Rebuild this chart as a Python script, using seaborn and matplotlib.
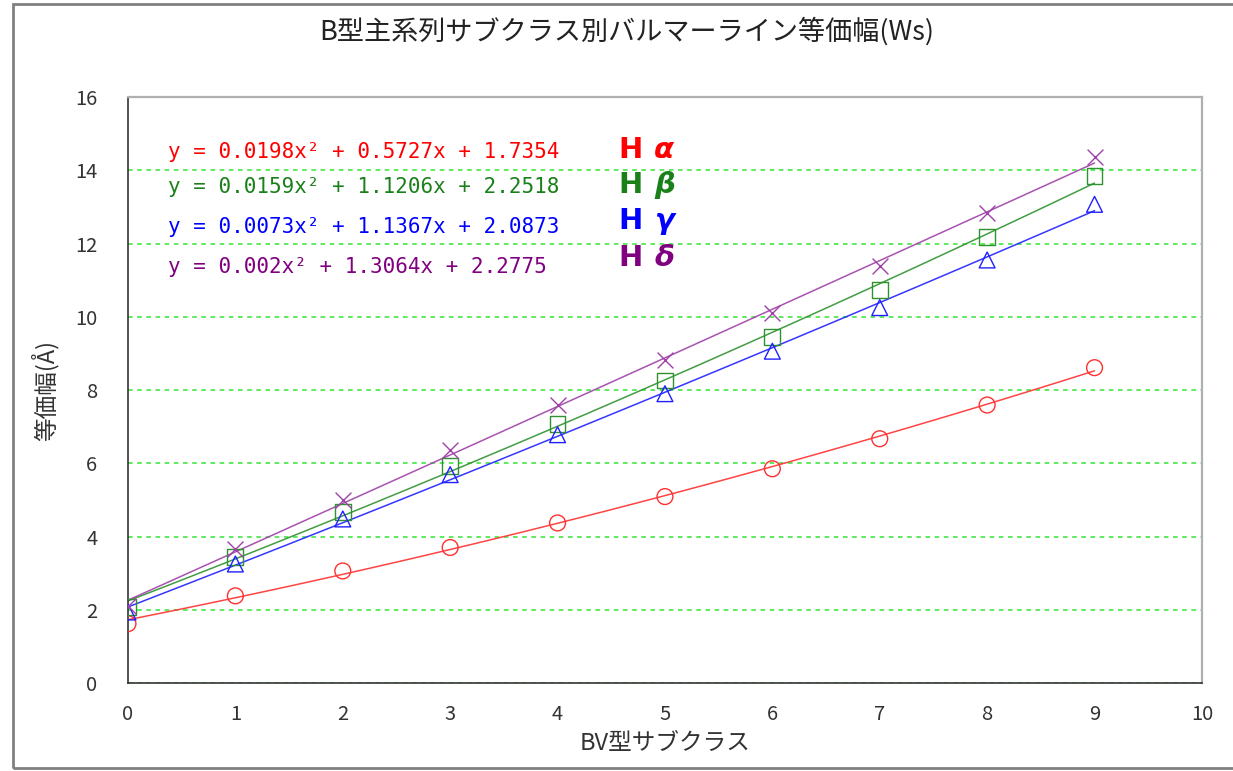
import matplotlib
matplotlib.use("Agg")
import matplotlib.pyplot as plt
import matplotlib.patches as mpatches
import numpy as np
import seaborn as sns

# BV-type subclass (B0 .. B9)
subclass = [0, 1, 2, 3, 4, 5, 6, 7, 8, 9]

# Equivalent widths (Angstrom)
h_alpha = [1.62, 2.38, 3.06, 3.70, 4.37, 5.09, 5.85, 6.67, 7.59, 8.61]
h_beta = [2.08, 3.45, 4.66, 5.92, 7.07, 8.26, 9.45, 10.74, 12.17, 13.85]
h_gamma = [1.94, 3.25, 4.48, 5.69, 6.78, 7.90, 9.06, 10.25, 11.55, 13.07]
h_delta = [2.09, 3.66, 5.01, 6.37, 7.59, 8.82, 10.09, 11.39, 12.83, 14.35]

series_names = ["\u03b1", "\u03b2", "\u03b3", "\u03b4"]
equations = [
    "y = 0.0198x\u00b2 + 0.5727x + 1.7354",
    "y = 0.0159x\u00b2 + 1.1206x + 2.2518",
    "y = 0.0073x\u00b2 + 1.1367x + 2.0873",
    "y = 0.002x\u00b2 + 1.3064x + 2.2775",
]

x_ticks = list(range(0, 11))
y_ticks = list(range(0, 17, 2))

SERIES = [
    # values, marker, line/marker colour, text colour
    (h_alpha, "o", "#ff3030", "#ff0000"),
    (h_beta, "s", "#2e922e", "#1a801a"),
    (h_gamma, "^", "#2020ff", "#0000ff"),
    (h_delta, "x", "#a040a8", "#800080"),
]

sns.set_theme(style="white")
plt.rcParams["font.family"] = ["Noto Sans CJK JP", "DejaVu Sans"]

fig = plt.figure(figsize=(12.33, 7.71), dpi=100)
ax = fig.add_axes([0.1038, 0.1141, 0.8710, 0.7601])

for values, marker, colour, _ in SERIES:
    scatter_kws = {"s": 130, "alpha": 1, "linewidths": 1.0, "zorder": 3}
    if marker != "x":
        scatter_kws["facecolors"] = "none"
    sns.regplot(
        x=subclass, y=values, order=2, ci=None, marker=marker, color=colour,
        scatter_kws=scatter_kws, line_kws={"linewidth": 1.1, "alpha": 0.9},
        ax=ax,
    )

ax.set_xlim(0, 10)
ax.set_ylim(0, 16)
ax.set_xticks(x_ticks)
ax.set_yticks(y_ticks)
ax.tick_params(direction="in", length=5, width=1, colors="#404040",
               labelsize=14.5, labelcolor="#333333")
ax.tick_params(axis="y", pad=22)
ax.tick_params(axis="x", pad=15)

ax.grid(False)
ax.yaxis.grid(True, color="#33e633", linestyle=(0, (3, 3)), linewidth=1.1)
ax.set_axisbelow(True)

for side in ["left", "bottom"]:
    ax.spines[side].set_color("#333333")
    ax.spines[side].set_linewidth(1.2)
for side in ["top", "right"]:
    ax.spines[side].set_color("#b0b0b0")
    ax.spines[side].set_linewidth(1.6)

ax.set_xlabel("BV型サブクラス", fontsize=17, color="#333333", labelpad=5)
ax.set_ylabel("等価幅(Å)", fontsize=17, color="#333333", labelpad=12)
fig.suptitle("B型主系列サブクラス別バルマーライン等価幅(Ws)", x=0.508, y=0.978,
             fontsize=19.5, color="#222222")

# fitted equations with series labels
eq_y = [14.5, 13.54, 12.45, 11.35]
lab_y = [14.55, 13.6, 12.62, 11.6]
for i, (eq, name) in enumerate(zip(equations, series_names)):
    txt_col = SERIES[i][3]
    ax.text(0.37, eq_y[i], eq, fontsize=15, color=txt_col,
            family=["DejaVu Sans Mono"], va="center", ha="left")
    ax.text(4.57, lab_y[i], "H", fontsize=21, fontweight="bold",
            color=txt_col, family=["DejaVu Sans"], va="center", ha="left")
    ax.text(4.9, lab_y[i], name, fontsize=21, fontweight="bold",
            fontstyle="italic", color=txt_col, family=["DejaVu Sans"],
            va="center", ha="left")

# outer frame of the picture
fig.patches.append(mpatches.Rectangle(
    (0.0105, 0.004), 1.2, 0.991, transform=fig.transFigure, fill=False,
    edgecolor="#808080", linewidth=2))

fig.savefig("out.png", dpi=100)
